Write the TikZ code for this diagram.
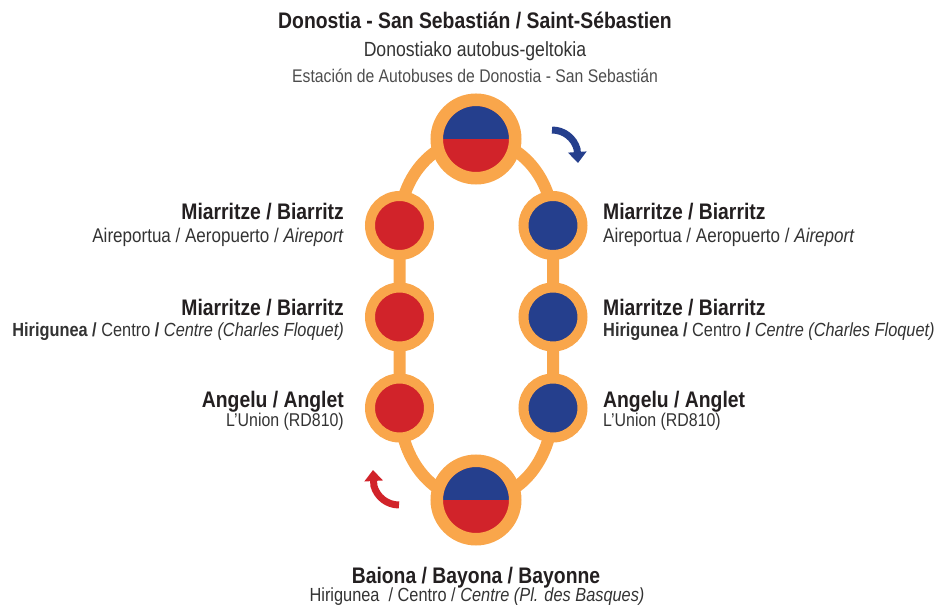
\documentclass[tikz,border=0pt]{standalone}
\usepackage{fontspec}
\setmainfont{Liberation Sans}[FakeStretch=0.86]
\usetikzlibrary{arrows.meta,backgrounds}
\definecolor{lineorange}{HTML}{F9A64B}
\definecolor{stopred}{HTML}{D1232A}
\definecolor{stopblue}{HTML}{253F8D}
\definecolor{txtdark}{HTML}{231F20}
\definecolor{txtgray}{HTML}{333333}
\definecolor{txtlight}{HTML}{4D4D4D}
\begin{document}
\begin{tikzpicture}[x=1pt, y=1pt,
        stopc/.style={circle, draw=lineorange, line width=10pt, inner sep=0pt, minimum size=59pt},
        bigstop/.style={circle, draw=lineorange, line width=12.5pt, inner sep=0pt, minimum size=78.5pt, fill=stopred,
            path picture={\fill[stopblue] ([xshift=-33pt]path picture bounding box.center) arc[start angle=180, end angle=0, radius=33pt] -- cycle;}},
        track/.style={draw=lineorange, line width=12pt},
        flow/.style={line width=7pt, -{Triangle[length=11pt, width=18pt]}},
        ttl/.style={font=\fontsize{22.5}{27}\selectfont\bfseries, text=txtdark, inner sep=0pt},
        sub/.style={font=\fontsize{19.8}{24}\selectfont, text=txtgray, inner sep=0pt}
    ]
        \useasboundingbox (0,0) rectangle (938,605);

        % End stations
        \node[bigstop] (ss) at (476,466) {};
        \node[bigstop] (bay) at (476,105) {};

        % Stops on both sides of the loop
        \node[stopc, fill=stopred] (l1) at (399.5,379.5) {};
        \node[stopc, fill=stopred] (l2) at (399.5,288) {};
        \node[stopc, fill=stopred] (l3) at (399.5,197) {};
        \node[stopc, fill=stopblue] (r1) at (553,379.5) {};
        \node[stopc, fill=stopblue] (r2) at (553,288) {};
        \node[stopc, fill=stopblue] (r3) at (553,197) {};

        % Loop behind the stops
        \begin{scope}[on background layer]
            \draw[track] (ss.center) to[out=180, in=90] (l1.center) -- (l2.center) -- (l3.center)
                to[out=-90, in=180] (bay.center) to[out=0, in=-90] (r3.center) -- (r2.center) -- (r1.center)
                to[out=90, in=0] (ss.center);
        \end{scope}

        % Direction arrows
        \draw[flow, stopblue] (552,475) arc[start angle=90, end angle=15, radius=26] -- (578,442);
        \draw[flow, stopred] (399,100) arc[start angle=270, end angle=195, radius=26] -- (373,135);

        % Top station
        \node[ttl, anchor=base] (sst) at (475,576) {Donostia - San Sebastián / Saint-Sébastien};
        \node[sub, anchor=base, font=\fontsize{20.5}{24}\selectfont] (sss1) at (475,548.5) {Donostiako autobus-geltokia};
        \node[sub, anchor=base, font=\fontsize{18.3}{22}\selectfont, text=txtlight] (sss2) at (475,522) {Estación de Autobuses de Donostia - San Sebastián};

        % Left labels
        \node[ttl, anchor=base east] (l1t) at (344,385) {Miarritze / Biarritz};
        \node[sub, anchor=base east] (l1s) at (344,362) {Aireportua / Aeropuerto / \textit{Aireport}};
        \node[ttl, anchor=base east] (l2t) at (344,289) {Miarritze / Biarritz};
        \node[sub, anchor=base east, font=\fontsize{19}{24}\selectfont] (l2s) at (344,268) {\textbf{Hirigunea /} Centro \textbf{/} \textit{Centre (Charles Floquet)}};
        \node[ttl, anchor=base east] (l3t) at (344,197) {Angelu / Anglet};
        \node[sub, anchor=base east, font=\fontsize{18.5}{24}\selectfont] (l3s) at (344,178) {L’Union (RD810)};

        % Right labels
        \node[ttl, anchor=base west] (r1t) at (603,385) {Miarritze / Biarritz};
        \node[sub, anchor=base west] (r1s) at (603,362) {Aireportua / Aeropuerto / \textit{Aireport}};
        \node[ttl, anchor=base west] (r2t) at (603,289) {Miarritze / Biarritz};
        \node[sub, anchor=base west, font=\fontsize{19}{24}\selectfont] (r2s) at (603,268) {\textbf{Hirigunea /} Centro \textbf{/} \textit{Centre (Charles Floquet)}};
        \node[ttl, anchor=base west] (r3t) at (603,197) {Angelu / Anglet};
        \node[sub, anchor=base west, font=\fontsize{18.5}{24}\selectfont] (r3s) at (603,178) {L’Union (RD810)};

        % Bottom station
        \node[ttl, anchor=base] (bayt) at (476,21.5) {Baiona / Bayona / Bayonne};
        \node[sub, anchor=base, font=\fontsize{19}{24}\selectfont] (bays) at (477,3) {Hirigunea\ \ / Centro / \textit{Centre (Pl. des Basques)}};
    \end{tikzpicture}
\end{document}
